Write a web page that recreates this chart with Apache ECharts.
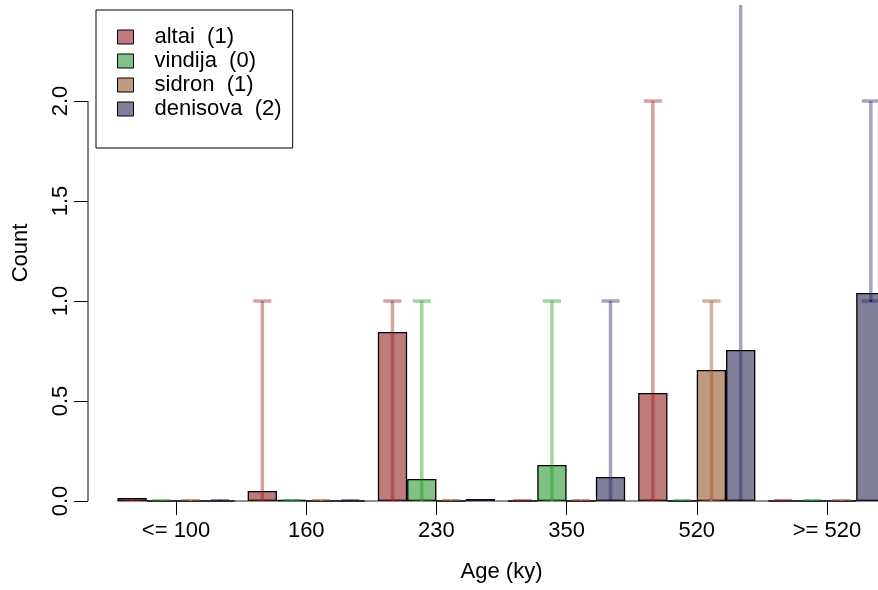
<!DOCTYPE html>
<html>
<head>
<meta charset="utf-8">
<script src="https://cdn.jsdelivr.net/npm/echarts@6/dist/echarts.min.js"></script>
<style>html,body{margin:0;padding:0;background:#fff}#c{width:878px;height:590px}</style>
</head>
<body>
<div id="c"></div>
<script>
// ---- data ----
var categories = ['<= 100', '160', '230', '350', '520', '>= 520'];
var sampleNames = ['altai', 'vindija', 'sidron', 'denisova'];
var sampleCounts = [1, 0, 1, 2];
var altai    = [0.015, 0.05, 0.845, 0, 0.54, 0];
var vindija  = [0, 0.005, 0.11, 0.18, 0, 0];
var sidron   = [0, 0, 0, 0, 0.655, 0];
var denisova = [0, 0, 0.01, 0.12, 0.755, 1.04];
var altaiLo    = [0, 0, 0, 0, 0, 0];
var altaiHi    = [0, 1, 1, 0, 2, 0];
var vindijaLo  = [0, 0, 0, 0, 0, 0];
var vindijaHi  = [0, 0, 1, 1, 0, 0];
var sidronLo   = [0, 0, 0, 0, 0, 0];
var sidronHi   = [0, 0, 0, 0, 1, 0];
var denisovaLo = [0, 0, 0, 0, 0, 1];
var denisovaHi = [0, 0, 0, 1, 3, 2];
var yTicks = [0, 0.5, 1, 1.5, 2];

// ---- styles ----
var FONT = 'Liberation Sans, Arial, Helvetica, sans-serif';
var fills = ['#bf7b7b', '#80c285', '#bf9980', '#7f7f99'];
var errColors = ['rgba(150,20,20,0.40)', 'rgba(20,150,20,0.40)', 'rgba(160,82,45,0.45)', 'rgba(30,30,90,0.40)'];
var dotColors = ['#ff0000', '#00cc00', '#ff8c00', '#000080'];

var values = [altai, vindija, sidron, denisova];
var los = [altaiLo, vindijaLo, sidronLo, denisovaLo];
var his = [altaiHi, vindijaHi, sidronHi, denisovaHi];
var NB = 4, CAT_GAP = 0.10;

var series = [];
var legendNames = [];
sampleNames.forEach(function (n, k) {
  var name = n + '  (' + sampleCounts[k] + ')';
  legendNames.push(name);
  series.push({
    type: 'bar', name: name, data: values[k],
    barGap: '0%', barCategoryGap: (CAT_GAP * 100) + '%',
    itemStyle: { color: fills[k], borderColor: '#000', borderWidth: 1.3 },
    z: 2, silent: true
  });
});

sampleNames.forEach(function (n, k) {
  var data = categories.map(function (c, i) { return [i, los[k][i], his[k][i], values[k][i]]; });
  series.push({
    type: 'custom', name: n + '_err', data: data, clip: true, z: 5, silent: true,
    encode: { x: 0, y: [1, 2] },
    renderItem: function (params, api) {
      var cat = api.value(0), lo = api.value(1), hi = api.value(2);
      var band = api.size([1, 0])[0];
      var w = band * (1 - CAT_GAP) / NB;
      var cx = api.coord([cat, 0])[0] + (k - (NB - 1) / 2) * w;
      var yLo = api.coord([cat, lo])[1];
      var yHi = api.coord([cat, hi])[1];
      var cap = w * 0.62;
      var st = { stroke: errColors[k], lineWidth: 3.5 };
      var ch = [];
      if (hi > lo) ch.push({ type: 'line', shape: { x1: cx, y1: yLo, x2: cx, y2: yHi }, style: st });
      ch.push({ type: 'line', shape: { x1: cx - cap / 2, y1: yLo, x2: cx + cap / 2, y2: yLo }, style: st });
      ch.push({ type: 'line', shape: { x1: cx - cap / 2, y1: yHi, x2: cx + cap / 2, y2: yHi }, style: st });
      ch.push({ type: 'circle', shape: { cx: cx, cy: yLo, r: 1 }, style: { fill: dotColors[k] } });
      return { type: 'group', children: ch };
    }
  });
});

// axis lines (R style: y axis from first to last tick, x baseline)
series.push({
  type: 'custom', name: 'axes', data: [[0, 0]], clip: false, z: 3, silent: true,
  encode: { x: 0, y: 1 },
  renderItem: function (params, api) {
    var band = api.size([1, 0])[0];
    var w = band * (1 - CAT_GAP) / NB;
    var first = api.coord([0, 0]);
    var last = api.coord([categories.length - 1, 0]);
    var ax = params.coordSys.x - 23;
    var y0 = api.coord([0, yTicks[0]])[1];
    var y1 = api.coord([0, yTicks[yTicks.length - 1]])[1];
    return { type: 'group', children: [
      { type: 'line', shape: { x1: first[0] - 2 * w, y1: first[1], x2: last[0] + 2 * w, y2: last[1] }, style: { stroke: '#222', lineWidth: 1 } },
      { type: 'line', shape: { x1: ax, y1: y0, x2: ax, y2: y1 }, style: { stroke: '#000', lineWidth: 1 } }
    ]};
  }
});

var chart = echarts.init(document.getElementById('c'), null, { renderer: 'canvas' });
chart.setOption({
  animation: false,
  backgroundColor: '#fff',
  textStyle: { fontFamily: FONT },
  grid: { left: 111, right: -14, top: 5, bottom: 89, outerBoundsMode: 'none', containLabel: false },
  legend: {
    data: legendNames, left: 96, top: 10, orient: 'vertical',
    padding: [16, 11, 28, 21], itemGap: 2, itemWidth: 16, itemHeight: 14,
    borderColor: '#000', borderWidth: 1, borderRadius: 0, icon: 'rect',
    itemStyle: { borderColor: '#000', borderWidth: 1 },
    textStyle: { fontSize: 22, fontFamily: FONT, color: '#000', lineHeight: 22, padding: [0, 0, 0, 16] },
    selectedMode: false
  },
  xAxis: {
    type: 'category', data: categories, boundaryGap: true,
    axisLine: { show: false },
    axisTick: { show: true, alignWithLabel: true, length: 14, lineStyle: { color: '#000', width: 1 } },
    axisLabel: { fontSize: 22, fontFamily: FONT, color: '#000', margin: 19, interval: 0 },
    splitLine: { show: false },
    name: 'Age (ky)', nameLocation: 'middle', nameGap: 60,
    nameTextStyle: { fontSize: 22, fontFamily: FONT, color: '#000' }
  },
  yAxis: {
    type: 'value', min: 0, max: 2.48, offset: 23,
    axisLine: { show: false },
    axisTick: { show: true, length: 14, customValues: yTicks, lineStyle: { color: '#000', width: 1 } },
    axisLabel: { fontSize: 22, fontFamily: FONT, color: '#000', rotate: 90, margin: 16, customValues: yTicks,
      formatter: function (v) { return v.toFixed(1); } },
    splitLine: { show: false },
    name: 'Count', nameLocation: 'middle', nameGap: 56, nameRotate: 90,
    nameTextStyle: { fontSize: 22, fontFamily: FONT, color: '#000' }
  },
  series: series
});
</script>
</body>
</html>
